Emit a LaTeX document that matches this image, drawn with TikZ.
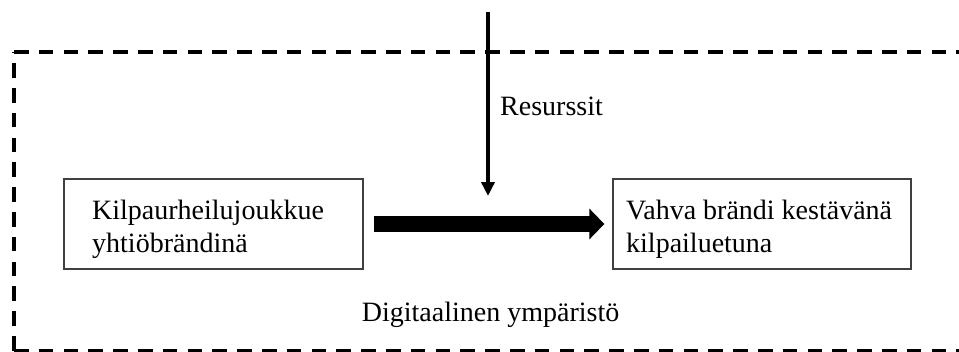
\documentclass[tikz,border=0pt]{standalone}
\usepackage{fontspec}
\setmainfont{Liberation Serif}
\usetikzlibrary{arrows.meta}
\definecolor{boxline}{HTML}{404040}
\begin{document}
\begin{tikzpicture}[x=1pt,y=-1pt,
  frame/.style={line width=3.5pt, dash pattern=on 14.5pt off 10.3pt},
  panel/.style={draw=boxline, line width=1.3pt, minimum width=299pt,
    minimum height=90pt, inner sep=0pt},
  lbl/.style={font=\fontsize{28}{33}\selectfont, inner sep=0pt, align=left},
  flow/.style={line width=16.5pt, -{Triangle[width=30pt,length=15pt]}},
  feed/.style={line width=3.5pt, -{Triangle[width=13pt,length=14pt]}}]
\useasboundingbox (0,0) rectangle (959,351);
\clip (0,0) rectangle (959,351);

% dashed environment frame, open to the right
\draw[frame] (14,52) -- (975,52);
\draw[frame] (14,350.5) -- (14,52);
\draw[frame] (14,350.5) -- (975,350.5);

% the two boxes (text anchored on the baseline of its last line)
\node[panel] (brand) at (213.5,224) {};
\node[panel, minimum width=298pt] (edge) at (762,224) {};
\node[lbl, anchor=base west] (brandtxt) at (92,252.3)
  {Kilpaurheilujoukkue\\yhtiöbrändinä};
\node[lbl, anchor=base west] (edgetxt) at (626,252.3)
  {Vahva brändi kestävänä\\kilpailuetuna};

% main flow
\draw[flow, shorten <=10pt, shorten >=8pt] (brand.east) -- (edge.west);

% resources coming in from above
\coordinate (src) at (488,11.7);
\coordinate (hit) at (488,196);
\draw[feed] (src) -- (hit);
\node[lbl, anchor=base west] (res) at (500,115) {Resurssit};

\node[lbl, anchor=base west] (env) at (361.7,321.7) {Digitaalinen ympäristö};
\end{tikzpicture}
\end{document}
